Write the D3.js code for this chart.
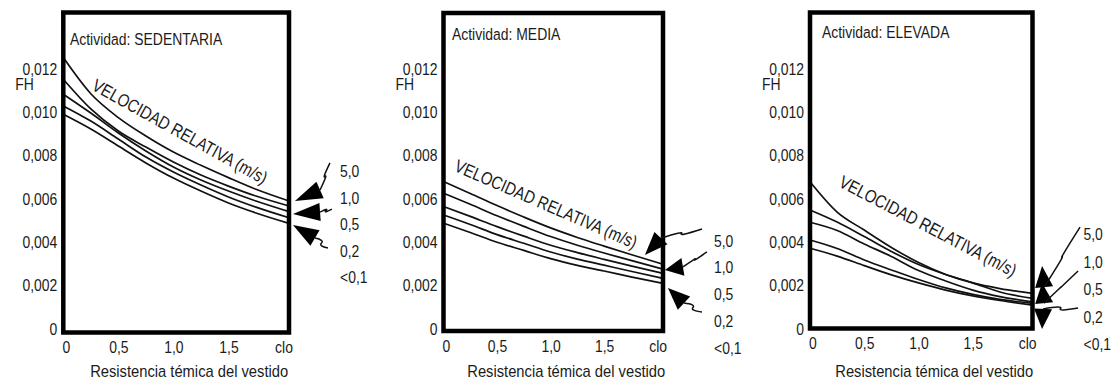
<!DOCTYPE html>
<html>
<head>
<meta charset="utf-8">
<script src="https://cdn.jsdelivr.net/npm/d3@7"></script>
<style>
  body { margin: 0; background: #fff; }
  svg text { font-family: "Liberation Sans Narrow", "Arial Narrow", "Liberation Sans", Arial, sans-serif; fill: #1b1b1b; }
</style>
</head>
<body>
<svg id="chart" width="1119" height="385"></svg>
<script>
// clothing resistance (clo) where the curves were read
var clo = [0, 0.25, 0.5, 0.75, 1.0, 1.25, 1.5, 1.75, 2.05];

// relative air speed (m/s), top curve first
var speeds = ["5,0", "1,0", "0,5", "0,2", "<0,1"];

var xTickValues = [0, 0.5, 1.0, 1.5, 2.0];
var xTickLabels = ["0", "0,5", "1,0", "1,5", "clo"];
var yTickValues = [0, 0.002, 0.004, 0.006, 0.008, 0.010, 0.012];
var yTickLabels = ["0", "0,002", "0,004", "0,006", "0,008", "0,010", "0,012"];

// FH values, one row per speed
var sedentaria = [
	[0.01248, 0.01081, 0.00971, 0.00886, 0.00812, 0.00751, 0.00694, 0.00640, 0.00586],
	[0.01148, 0.01011, 0.00909, 0.00835, 0.00766, 0.00706, 0.00655, 0.00609, 0.00563],
	[0.01079, 0.00992, 0.00900, 0.00817, 0.00743, 0.00683, 0.00632, 0.00586, 0.00537],
	[0.01025, 0.00955, 0.00872, 0.00789, 0.00720, 0.00660, 0.00605, 0.00558, 0.00509],
	[0.00986, 0.00918, 0.00840, 0.00762, 0.00692, 0.00632, 0.00577, 0.00531, 0.00483]
];
var media = [
	[0.00676, 0.00621, 0.00565, 0.00512, 0.00462, 0.00418, 0.00378, 0.00339, 0.00294],
	[0.00622, 0.00571, 0.00518, 0.00469, 0.00422, 0.00382, 0.00346, 0.00312, 0.00272],
	[0.00561, 0.00515, 0.00468, 0.00424, 0.00382, 0.00348, 0.00317, 0.00287, 0.00252],
	[0.00522, 0.00478, 0.00431, 0.00391, 0.00351, 0.00318, 0.00290, 0.00262, 0.00229],
	[0.00484, 0.00441, 0.00396, 0.00358, 0.00320, 0.00289, 0.00263, 0.00236, 0.00206]
];
var elevada = [
	[0.00675, 0.00535, 0.00452, 0.00372, 0.00302, 0.00247, 0.00208, 0.00182, 0.00160],
	[0.00545, 0.00489, 0.00422, 0.00353, 0.00293, 0.00247, 0.00208, 0.00166, 0.00137],
	[0.00488, 0.00450, 0.00388, 0.00330, 0.00265, 0.00217, 0.00175, 0.00145, 0.00121],
	[0.00406, 0.00367, 0.00314, 0.00268, 0.00224, 0.00185, 0.00155, 0.00132, 0.00114],
	[0.00368, 0.00332, 0.00288, 0.00245, 0.00208, 0.00175, 0.00148, 0.00127, 0.00106]
];

// pointer arrows: tip, neck (base of head), tail end, in clo / FH units
var arrowsSedentaria = [
	{ tip: [2.104, 0.00586], neck: [2.332, 0.00637], tail: [2.422, 0.00762] },
	{ tip: [2.086, 0.00526], neck: [2.332, 0.00535], tail: [2.440, 0.00549] },
	{ tip: [2.086, 0.00475], neck: [2.286, 0.00415], tail: [2.404, 0.00369] }
];
var arrowsMedia = [
	{ tip: [1.881, 0.00337], neck: [2.031, 0.00415], tail: [2.414, 0.00457] },
	{ tip: [2.068, 0.00268], neck: [2.236, 0.00282], tail: [2.460, 0.00351] },
	{ tip: [2.096, 0.00185], neck: [2.246, 0.00115], tail: [2.414, 0.00074] }
];
var arrowsElevada = [
	{ tip: [2.138, 0.00286], neck: [2.157, 0.00189], tail: [2.488, 0.00466] },
	{ tip: [2.138, 0.00208], neck: [2.157, 0.00115], tail: [2.470, 0.00263] },
	{ tip: [2.138, -0.00005], neck: [2.147, 0.00088], tail: [2.470, 0.00092] }
];

var panels = [
	{ title: "Actividad: SEDENTARIA", curves: sedentaria, arrows: arrowsSedentaria,
		left: 63.3, right: 289, top: 12.5, bottom: 332.5, titleX: 70, titleY: 45,
		legendY: 177, legendStep: 26.5, velX: 180, velY: 131.5, velAngle: 29 },
	{ title: "Actividad: MEDIA", curves: media, arrows: arrowsMedia,
		left: 443.5, right: 663, top: 13, bottom: 331, titleX: 452, titleY: 40,
		legendY: 246.7, legendStep: 26.7, velX: 546, velY: 204, velAngle: 23.5 },
	{ title: "Actividad: ELEVADA", curves: elevada, arrows: arrowsElevada,
		left: 810, right: 1032.5, top: 12.5, bottom: 328.5, titleX: 822, titleY: 37.5,
		legendY: 240, legendStep: 27.5, velX: 928, velY: 226, velAngle: 27.6 }
];

var svg = d3.select("#chart");

// squeeze text horizontally, the scan uses a condensed face
var narrow = function(sel) {
	sel.attr("transform", function() {
		var t = d3.select(this).attr("transform") || "";
		return t + " scale(0.82,1)";
	});
};

var addText = function(g, x, y, txt) {
	return g.append("text")
		.attr("transform", "translate(" + x + "," + y + ") scale(0.82,1)")
		.style("font-size", "17px")
		.text(txt);
};

var yScale = d3.scaleLinear()
	.domain([0, 0.012])
	.range([328, 68]);

panels.forEach(function(p) {
	var g = svg.append("g");

	var xScale = d3.scaleLinear()
		.domain([0, 2.05])
		.range([p.left, p.right]);

	// y axis labels
	var yAxis = d3.axisLeft(yScale)
		.tickValues(yTickValues)
		.tickFormat(function(d, i) { return yTickLabels[i]; })
		.tickSize(0)
		.tickPadding(0);

	var yg = g.append("g")
		.attr("transform", "translate(" + (p.left - 6) + ",0)")
		.call(yAxis);
	yg.select(".domain").remove();
	yg.selectAll("text")
		.style("font-size", "17px")
		.attr("fill", null)
		.attr("dy", "0.36em")
		.call(narrow);

	addText(g, p.left - 48, yScale(0.012) + 22, "FH");

	// x axis labels
	var xAxis = d3.axisBottom(xScale)
		.tickValues(xTickValues)
		.tickFormat(function(d, i) { return xTickLabels[i]; })
		.tickSize(0)
		.tickPadding(0);

	var xg = g.append("g")
		.attr("transform", "translate(0," + (p.bottom + 8) + ")")
		.call(xAxis);
	xg.select(".domain").remove();
	xg.selectAll("text")
		.style("font-size", "17px")
		.attr("fill", null)
		.attr("dy", "0.75em")
		.call(narrow);
	xg.select(".tick text").attr("dx", 3);

	g.append("text")
		.attr("x", (p.left + p.right) / 2 + 13)
		.attr("y", 377)
		.attr("text-anchor", "middle")
		.attr("textLength", 198)
		.attr("lengthAdjust", "spacingAndGlyphs")
		.style("font-size", "17px")
		.text("Resistencia témica del vestido");

	// curves
	var line = d3.line()
		.x(function(d) { return xScale(d[0]); })
		.y(function(d) { return yScale(d[1]); })
		.curve(d3.curveMonotoneX);

	g.selectAll(".curve")
		.data(p.curves)
		.enter()
		.append("path")
		.attr("class", "curve")
		.attr("d", function(row) {
			return line(row.map(function(v, i) { return [clo[i], v]; }));
		})
		.style("fill", "none")
		.style("stroke", "#111")
		.style("stroke-width", 1.7);

	// frame
	g.append("rect")
		.attr("x", p.left)
		.attr("y", p.top)
		.attr("width", p.right - p.left)
		.attr("height", p.bottom - p.top)
		.style("fill", "none")
		.style("stroke", "#000")
		.style("stroke-width", 4.5);

	addText(g, p.titleX, p.titleY, p.title);

	g.append("text")
		.attr("transform", "translate(" + p.velX + "," + p.velY + ") rotate(" + p.velAngle + ")")
		.attr("text-anchor", "middle")
		.attr("dy", "0.35em")
		.attr("textLength", 197)
		.attr("lengthAdjust", "spacingAndGlyphs")
		.style("font-size", "18px")
		.text("VELOCIDAD RELATIVA (m/s)");

	// speed labels on the right
	speeds.forEach(function(s, i) {
		addText(g, p.right + 51, p.legendY + i * p.legendStep, s);
	});

	// arrows
	p.arrows.forEach(function(a) {
		var tx = xScale(a.tip[0]), ty = yScale(a.tip[1]);
		var nx = xScale(a.neck[0]), ny = yScale(a.neck[1]);
		var ex = xScale(a.tail[0]), ey = yScale(a.tail[1]);
		var dx = nx - tx, dy = ny - ty;
		var len = Math.sqrt(dx * dx + dy * dy);
		var px = -dy / len * 9, py = dx / len * 9;

		g.append("path")
			.attr("d", "M" + tx + "," + ty + "L" + (nx + px) + "," + (ny + py) + "L" + (nx - px) + "," + (ny - py) + "Z")
			.style("fill", "#000");

		var mx = (nx + ex) / 2, my = (ny + ey) / 2;
		g.append("path")
			.attr("d", "M" + nx + "," + ny +
				"Q" + (mx + 3) + "," + (my - 3) + "," + mx + "," + my +
				"T" + ex + "," + ey)
			.style("fill", "none")
			.style("stroke", "#111")
			.style("stroke-width", 1.5);
	});
});
</script>
</body>
</html>
